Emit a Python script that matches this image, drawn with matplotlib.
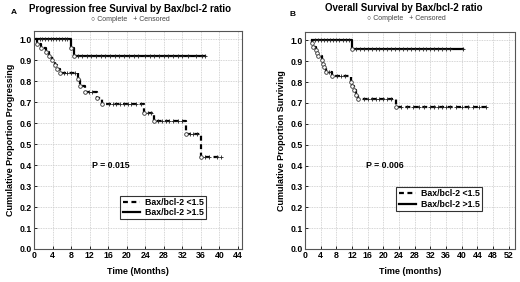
import numpy as np
import matplotlib
matplotlib.use("Agg")
import matplotlib.pyplot as plt

plt.rcParams['font.family'] = ['Liberation Sans', 'DejaVu Sans']
plt.rcParams['font.weight'] = 'bold'

# ---------------- Panel A: Progression free survival ----------------
A_low_start = 0.4
A_low_end = 40.3
A_low_t = [0.6, 1.6, 2.6, 3.3, 3.8, 4.5, 5.0, 5.6, 9.6, 10.0, 11.0, 13.5, 14.6, 23.8, 25.8, 32.8, 36.0]
A_low_s = [0.98, 0.96, 0.94, 0.92, 0.90, 0.88, 0.86, 0.84, 0.81, 0.78, 0.75, 0.72, 0.69, 0.65, 0.61, 0.55, 0.44]
A_low_cens = [6.4, 7.2, 8.0, 8.8, 11.8, 12.6, 16.2, 17.0, 17.8, 18.6, 19.4, 20.2, 21.0, 22.0, 23.0,
              24.6, 25.2, 26.8, 27.6, 28.4, 29.2, 30.0, 31.0, 32.0, 33.6, 34.4, 35.2, 37.0, 37.8, 39.6, 40.3]

A_high_start = 0.4
A_high_end = 37.0
A_high_t = [7.9, 8.6]
A_high_s = [0.96, 0.92]
A_high_cens = [1.2, 1.8, 2.4, 3.0, 3.6, 4.2, 4.8, 5.4, 6.0, 6.6, 7.2, 9.4, 10.4, 11.4, 12.4, 13.4, 14.4,
               15.4, 16.4, 17.4, 18.4, 19.4, 20.4, 21.5, 22.5, 24.0, 25.0, 26.0, 27.0, 28.0, 29.0,
               30.0, 31.0, 32.0, 33.2, 35.0, 36.2, 37.0]

# ---------------- Panel B: Overall survival ----------------
B_low_start = 1.8
B_low_end = 46.3
B_low_t = [1.9, 2.1, 2.8, 3.0, 3.3, 4.3, 4.6, 4.9, 5.3, 6.9, 11.8, 12.1, 12.5, 13.0, 13.6, 23.3]
B_low_s = [0.985, 0.97, 0.955, 0.94, 0.925, 0.905, 0.885, 0.87, 0.85, 0.83, 0.80, 0.78, 0.76, 0.74, 0.72, 0.68]
B_low_cens = [6.0, 8.2, 9.2, 10.2, 15.0, 16.0, 17.0, 18.0, 19.0, 20.0, 21.0, 22.0, 24.5, 26.0, 27.5,
              29.0, 30.5, 32.0, 33.0, 34.0, 35.0, 36.0, 37.0, 38.5, 40.0, 41.5, 43.0, 44.5, 46.3]

B_high_start = 1.8
B_high_end = 40.3
B_high_t = [12.0]
B_high_s = [0.96]
B_high_cens = [2.5, 3.2, 4.0, 4.8, 5.6, 6.4, 7.2, 8.0, 8.8, 9.6, 10.4, 11.2, 13.0, 14.0, 15.0, 16.0,
               17.0, 18.0, 19.0, 20.0, 21.0, 22.0, 23.0, 24.0, 25.0, 26.0, 27.0, 28.0, 29.0, 30.0,
               31.0, 32.0, 33.0, 34.0, 35.0, 36.0, 37.0, 40.3]

x_ticks_A = [0, 4, 8, 12, 16, 20, 24, 28, 32, 36, 40, 44]
x_ticks_B = [0, 4, 8, 12, 16, 20, 24, 28, 32, 36, 40, 44, 48, 52]
y_ticks = [0.0, 0.1, 0.2, 0.3, 0.4, 0.5, 0.6, 0.7, 0.8, 0.9, 1.0]

fig = plt.figure(figsize=(5.2, 2.82), dpi=100)

DASH = (0, (2.2, 1.6))


def surv_at(t, ts, ss):
    idx = np.searchsorted(ts, t, side='right')
    return 1.0 if idx == 0 else ss[idx - 1]


def draw_curve(ax, start, end, ts, ss, cens, ls, lw):
    xs = [start] + list(ts) + [end]
    ys = [1.0] + list(ss) + [ss[-1]]
    ax.step(xs, ys, where='post', color='black', lw=lw, linestyle=ls, zorder=3)
    ax.plot(ts, ss, linestyle='none', marker='o', ms=2.6, mfc='white', mec='#333333', mew=0.6, zorder=4)
    cy = [surv_at(c, ts, ss) for c in cens]
    ax.plot(cens, cy, linestyle='none', marker='+', ms=2.8, color='#222222', mew=0.6, zorder=4)


def style_axes(ax, xticks, xlim, xlabel, ylabel):
    ax.set_xlim(*xlim)
    ax.set_ylim(0, 1.04)
    ax.set_xticks(xticks)
    ax.set_yticks(y_ticks)
    ax.set_yticklabels([f"{v:.1f}" for v in y_ticks])
    ax.tick_params(labelsize=6.3, length=2, width=0.6, pad=1.5, direction='in')
    for lab in ax.get_xticklabels() + ax.get_yticklabels():
        lab.set_fontweight('bold')
    ax.grid(True, color='#c8c8c8', linestyle=(0, (1, 1)), lw=0.6)
    for sp in ax.spines.values():
        sp.set_color('#555555')
        sp.set_linewidth(0.8)
        sp.set_linestyle((0, (2, 1)))
    ax.set_xlabel(xlabel, fontsize=6.5, fontweight='bold', labelpad=5)
    ax.set_ylabel(ylabel, fontsize=6.5, fontweight='bold', labelpad=3)


# Panel A
axA = fig.add_axes([34 / 520, 1 - 249 / 282, 208 / 520, 218 / 282])
draw_curve(axA, A_low_start, A_low_end, A_low_t, A_low_s, A_low_cens, DASH, 1.6)
draw_curve(axA, A_high_start, A_high_end, A_high_t, A_high_s, A_high_cens, '-', 1.6)
style_axes(axA, x_ticks_A, (0, 44.9), 'Time (Months)', 'Cumulative Proportion Progressing')
axA.text(16.5, 0.4, 'P = 0.015', fontsize=6.3, fontweight='bold', ha='center', va='center')
legA = axA.legend(handles=[plt.Line2D([], [], color='black', lw=1.6, linestyle=DASH),
                           plt.Line2D([], [], color='black', lw=1.6)],
                  labels=['Bax/bcl-2 <1.5', 'Bax/bcl-2 >1.5'],
                  loc='upper left', bbox_to_anchor=(0.415, 0.245), fontsize=6.3,
                  frameon=True, fancybox=False, handlelength=2.0, handletextpad=0.6,
                  borderpad=0.25, labelspacing=0.15, borderaxespad=0)
legA.get_frame().set_edgecolor('black')
legA.get_frame().set_linewidth(0.8)
for t in legA.get_texts():
    t.set_fontweight('bold')

# Panel B
axB = fig.add_axes([305 / 520, 1 - 249 / 282, 210 / 520, 217 / 282])
draw_curve(axB, B_low_start, B_low_end, B_low_t, B_low_s, B_low_cens, DASH, 1.6)
draw_curve(axB, B_high_start, B_high_end, B_high_t, B_high_s, B_high_cens, '-', 1.6)
style_axes(axB, x_ticks_B, (0, 53.6), 'Time (months)', 'Cumulative Proportion Surviving')
axB.text(20.3, 0.4, 'P = 0.006', fontsize=6.3, fontweight='bold', ha='center', va='center')
legB = axB.legend(handles=[plt.Line2D([], [], color='black', lw=1.6, linestyle=DASH),
                           plt.Line2D([], [], color='black', lw=1.6)],
                  labels=['Bax/bcl-2 <1.5', 'Bax/bcl-2 >1.5'],
                  loc='upper left', bbox_to_anchor=(0.435, 0.285), fontsize=6.3,
                  frameon=True, fancybox=False, handlelength=2.0, handletextpad=0.6,
                  borderpad=0.25, labelspacing=0.15, borderaxespad=0)
legB.get_frame().set_edgecolor('black')
legB.get_frame().set_linewidth(0.8)
for t in legB.get_texts():
    t.set_fontweight('bold')

# Titles and panel letters
fig.text(130 / 520, 1 - 9 / 282, 'Progression free Survival by Bax/bcl-2 ratio',
         fontsize=7.0, fontweight='bold', ha='center', va='center')
fig.text(14 / 520, 1 - 13 / 282, 'A', fontsize=6, fontweight='bold', ha='center', va='center')
fig.text(130 / 520, 1 - 19.5 / 282, '\u25cb Complete   + Censored',
         fontsize=5.0, fontweight='normal', color='#444444', ha='center', va='center')

fig.text(404 / 520, 1 - 8 / 282, 'Overall Survival by Bax/bcl-2 ratio',
         fontsize=7.0, fontweight='bold', ha='center', va='center')
fig.text(293 / 520, 1 - 14 / 282, 'B', fontsize=6, fontweight='bold', ha='center', va='center')
fig.text(406 / 520, 1 - 19 / 282, '\u25cb Complete   + Censored',
         fontsize=5.0, fontweight='normal', color='#444444', ha='center', va='center')

fig.savefig('out.png', dpi=100)
